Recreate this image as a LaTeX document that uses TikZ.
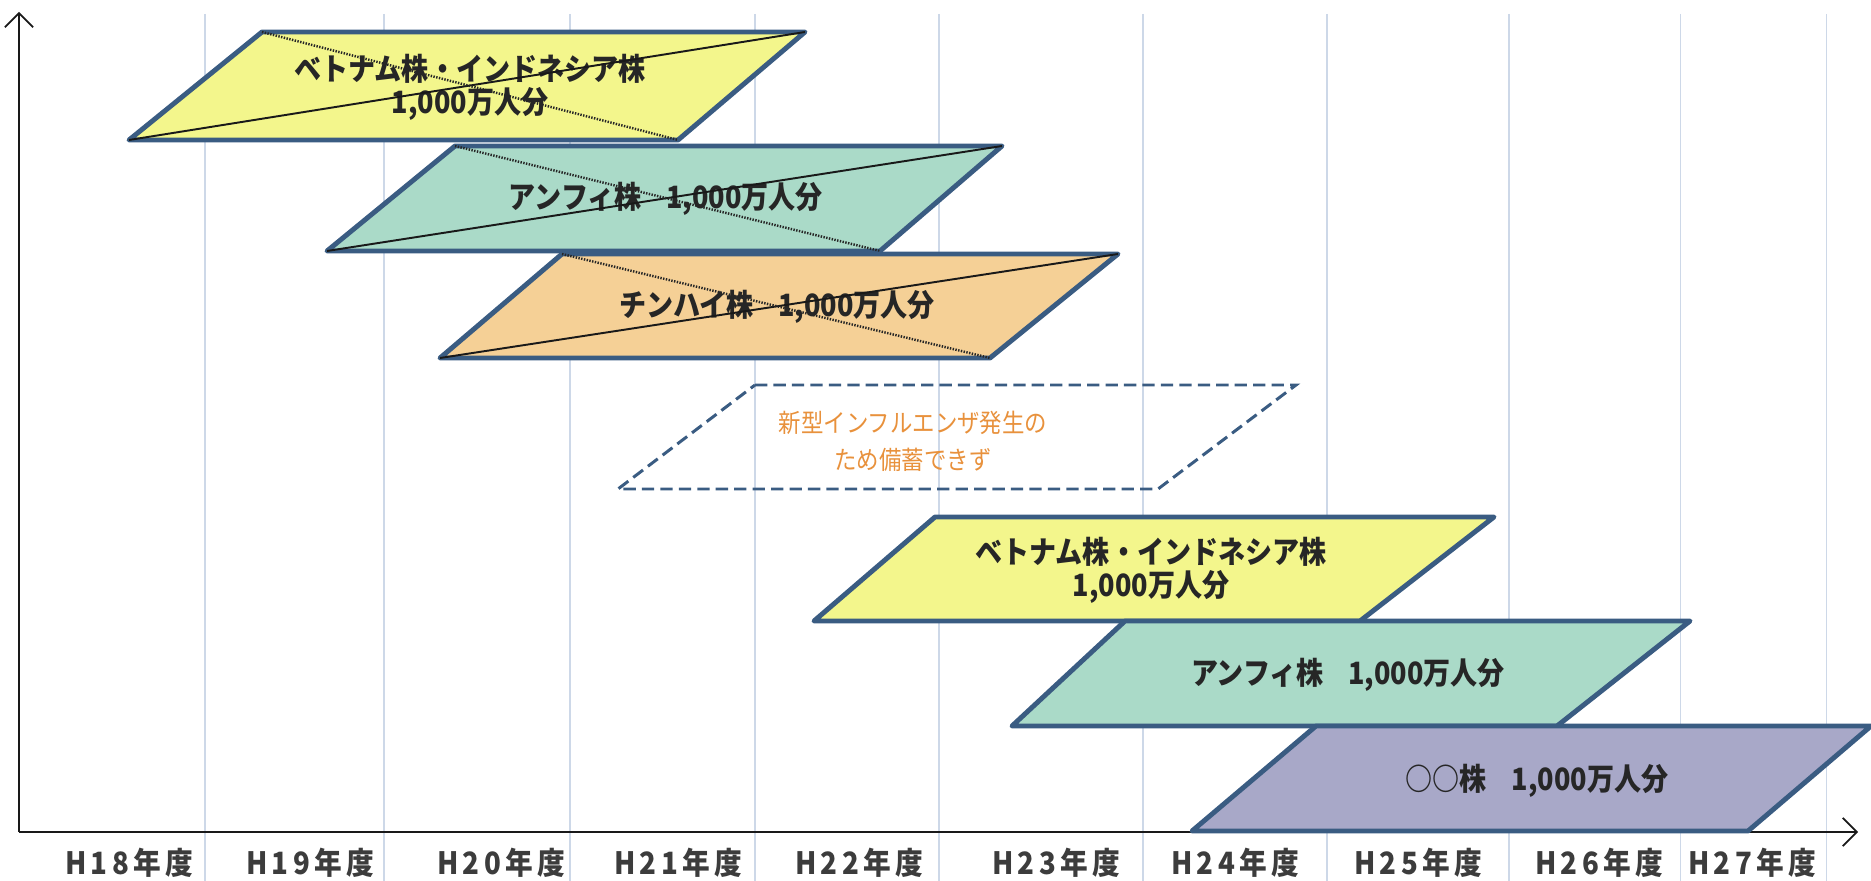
\documentclass[tikz,border=0pt]{standalone}
\usepackage{fontspec}
\setmainfont{Noto Sans CJK JP}
\newfontfamily\boxfont[FakeStretch=0.88]{Noto Sans CJK JP}
\newfontfamily\axfont[FakeStretch=0.9,LetterSpace=14]{Noto Sans CJK JP}
\usetikzlibrary{arrows.meta}
\definecolor{edge}{RGB}{58,92,130}
\definecolor{yel}{RGB}{243,246,140}
\definecolor{teal1}{RGB}{170,218,200}
\definecolor{org}{RGB}{245,208,150}
\definecolor{pur}{RGB}{168,168,200}
\definecolor{grid}{RGB}{205,216,232}
\definecolor{otext}{RGB}{232,145,60}
\definecolor{axtext}{RGB}{60,60,60}
\tikzset{
  pbox/.style={draw=edge, line width=2.8pt, line join=round},
  dbox/.style={draw=edge, line width=1.7pt, dash pattern=on 7pt off 3.5pt},
  crossline/.style={draw=black!90, line width=1.1pt},
  dotline/.style={draw=black!85, line width=1.4pt, dash pattern=on 0.8pt off 0.8pt},
  gridline/.style={draw=grid, line width=0.6pt},
  axis/.style={draw=black!90, line width=1pt, -{Straight Barb[length=8pt,width=16pt]}},
  boxtext/.style={font=\boxfont\bfseries\fontsize{17.5pt}{18.8pt}\selectfont, text=black!85, align=center, inner sep=0pt},
  otxt/.style={font=\boxfont\fontsize{14.5pt}{21pt}\selectfont, text=otext, align=center, inner sep=0pt},
  axlabel/.style={font=\axfont\bfseries\fontsize{17.5pt}{18pt}\selectfont, text=axtext, inner sep=0pt}
}
\begin{document}
\begin{tikzpicture}[x=0.02cm,y=-0.02cm]
\useasboundingbox (0,0) rectangle (1871,881);
% grid lines
\foreach \gx in {205,384,570,755,939,1143,1327,1509,1680,1826}
  \draw[gridline] (\gx,14) -- (\gx,881);
% axes
\coordinate (O) at (19,832);
\coordinate (Ytop) at (19,12);
\coordinate (Xend) at (1858,832);
\draw[axis] (O) -- (Ytop);
\draw[axis] (O) -- (Xend);
% axis labels
\node[axlabel] (l18) at (129,863) {H18年度};
\node[axlabel] (l19) at (310,863) {H19年度};
\node[axlabel] (l20) at (501,863) {H20年度};
\node[axlabel] (l21) at (678,863) {H21年度};
\node[axlabel] (l22) at (859,863) {H22年度};
\node[axlabel] (l23) at (1056,863) {H23年度};
\node[axlabel] (l24) at (1235,863) {H24年度};
\node[axlabel] (l25) at (1418,863) {H25年度};
\node[axlabel] (l26) at (1599,863) {H26年度};
\node[axlabel] (l27) at (1752,863) {H27年度};
% box 1 yellow (crossed)
\draw[pbox, fill=yel] (262,32) coordinate (a1) -- (805,32) coordinate (b1) -- (678,140) coordinate (c1) -- (129,140) coordinate (d1) -- cycle;
\node[boxtext] (t1) at (470,87) {ベトナム株・インドネシア株\\1,000万人分};
\draw[crossline] (d1) -- (b1);
\draw[dotline] (a1) -- (c1);
% box 2 teal (crossed)
\draw[pbox, fill=teal1] (455,146) coordinate (a2) -- (1002,146) coordinate (b2) -- (880,251) coordinate (c2) -- (327,251) coordinate (d2) -- cycle;
\node[boxtext] (t2) at (666,199) {アンフィ株\hspace{0.8em}1,000万人分};
\draw[crossline] (d2) -- (b2);
\draw[dotline] (a2) -- (c2);
% box 3 orange (crossed)
\draw[pbox, fill=org] (562,254) coordinate (a3) -- (1118,254) coordinate (b3) -- (990,358) coordinate (c3) -- (440,358) coordinate (d3) -- cycle;
\node[boxtext] (t3) at (777,307) {チンハイ株\hspace{0.8em}1,000万人分};
\draw[crossline] (d3) -- (b3);
\draw[dotline] (a3) -- (c3);
% box 4 dashed
\draw[dbox] (755,385) coordinate (a4) -- (1296,385) coordinate (b4) -- (1158,489) coordinate (c4) -- (618,489) coordinate (d4) -- cycle;
\node[otxt] (t4) at (913,441) {新型インフルエンザ発生の\\ため備蓄できず};
% box 5 yellow
\draw[pbox, fill=yel] (935,517) coordinate (a5) -- (1494,517) coordinate (b5) -- (1360,621) coordinate (c5) -- (814,621) coordinate (d5) -- cycle;
\node[boxtext] (t5) at (1151,570) {ベトナム株・インドネシア株\\1,000万人分};
% box 6 teal
\draw[pbox, fill=teal1] (1125,621) coordinate (a6) -- (1690,621) coordinate (b6) -- (1557,726) coordinate (c6) -- (1012,726) coordinate (d6) -- cycle;
\node[boxtext] (t6) at (1348,675) {アンフィ株\hspace{0.8em}1,000万人分};
% box 7 purple
\draw[pbox, fill=pur] (1316,726) coordinate (a7) -- (1871,726) coordinate (b7) -- (1748,831) coordinate (c7) -- (1192,831) coordinate (d7) -- cycle;
\node[boxtext] (t7) at (1537,781) {○○株\hspace{0.8em}1,000万人分};
\end{tikzpicture}
\end{document}
